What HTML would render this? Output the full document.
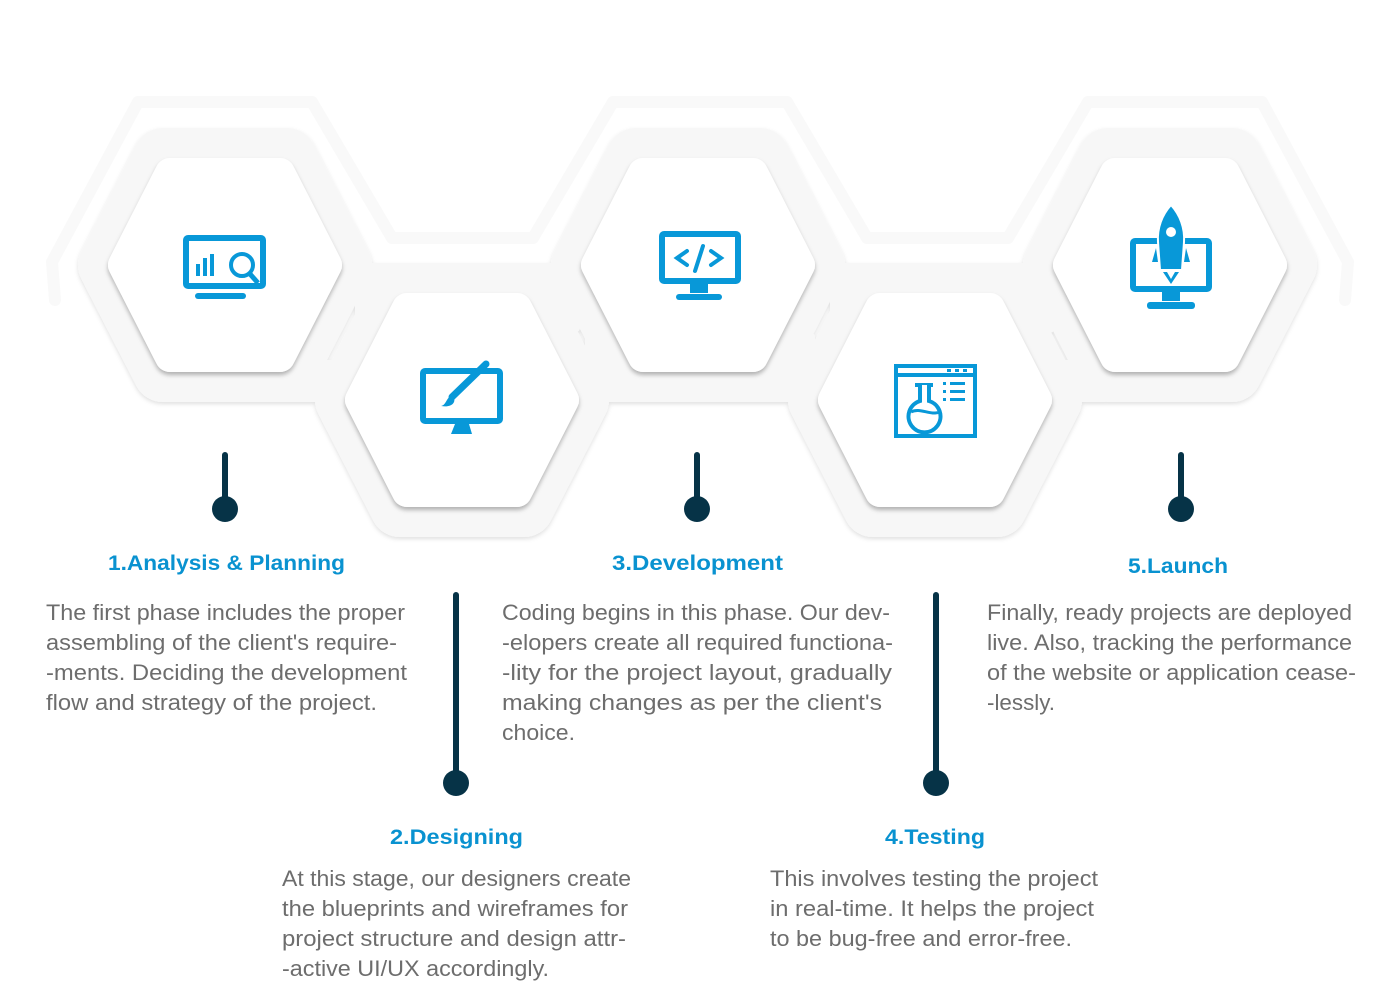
<!DOCTYPE html>
<html><head><meta charset="utf-8"><style>
html,body{margin:0;padding:0;background:#fff;width:1400px;height:1000px;overflow:hidden}
svg{display:block}
.t{font-family:"Liberation Sans",sans-serif;font-weight:bold;font-size:21px;fill:#0992d0}
.b{font-family:"Liberation Sans",sans-serif;font-size:22px;fill:#6d6d6d}
</style></head><body>
<svg width="1400" height="1000" viewBox="0 0 1400 1000" xmlns="http://www.w3.org/2000/svg">
<defs>
<filter id="sh" filterUnits="userSpaceOnUse" x="0" y="0" width="1400" height="1000">
<feDropShadow dx="0" dy="3" stdDeviation="2" flood-color="#000" flood-opacity="0.28"/>
</filter>
<filter id="sh2" filterUnits="userSpaceOnUse" x="0" y="0" width="1400" height="1000">
<feDropShadow dx="0" dy="2" stdDeviation="2" flood-color="#000" flood-opacity="0.12"/>
</filter>
<g id="band"><polygon points="-117,0 -62,-107 62,-107 117,0 62,107 -62,107" fill="#f7f7f7" stroke="#f7f7f7" stroke-width="60" stroke-linejoin="round"/></g>
<g id="hex"><polygon points="-102,0 -55,-92 55,-92 102,0 55,92 -55,92" fill="#fff" stroke="#fff" stroke-width="30" stroke-linejoin="round"/></g>
</defs>
<polyline points="55,300 52,262 138,102 312,102 392,238 533,238 613,102 787,102 867,238 1008,238 1088,102 1262,102 1348,262 1345,300" fill="none" stroke="#f9f9f9" stroke-width="12" stroke-linejoin="round" stroke-linecap="round"/>
<g filter="url(#sh2)">
<use href="#band" x="225" y="265"/>
<use href="#band" x="462" y="400"/>
<use href="#band" x="698" y="265"/>
<use href="#band" x="935" y="400"/>
<use href="#band" x="1170" y="265"/>
<g fill="#f7f7f7">
<rect x="355" y="263" width="225" height="70" rx="6"/>
<rect x="830" y="263" width="225" height="70" rx="6"/>
<rect x="585" y="332" width="230" height="70" rx="6"/>
<rect x="280" y="360" width="80" height="42" rx="6"/>
<rect x="1040" y="360" width="70" height="42" rx="6"/>
</g>
</g>
<g filter="url(#sh)">
<use href="#hex" x="225" y="265"/>
<use href="#hex" x="462" y="400"/>
<use href="#hex" x="698" y="265"/>
<use href="#hex" x="935" y="400"/>
<use href="#hex" x="1170" y="265"/>
</g>
<!-- icon 1 -->
<g fill="#0898d8" stroke="#0898d8">
<rect x="186" y="238" width="77" height="48" rx="2" fill="none" stroke-width="6"/>
<rect x="195" y="293" width="51" height="6" rx="3" stroke="none"/>
<rect x="196" y="264" width="4" height="12" stroke="none"/>
<rect x="203" y="258" width="4" height="18" stroke="none"/>
<rect x="210" y="254" width="4" height="22" stroke="none"/>
<circle cx="242" cy="265" r="11" fill="#fff" stroke-width="4"/>
<line x1="250" y1="274" x2="258" y2="283" stroke-width="5"/>
</g>
<!-- icon 2 -->
<g fill="#0898d8" stroke="#0898d8">
<rect x="423" y="371" width="77" height="50" rx="2" fill="none" stroke-width="6"/>
<polygon points="455,424 469,424 472,434 451,434" stroke="none"/>
<line x1="486" y1="364" x2="452" y2="397" stroke-width="7" stroke-linecap="round"/>
<path d="M453,396 C446,396 447,405 441,406 C452,408 457,402 453,396Z" stroke="none"/>
</g>
<!-- icon 3 -->
<g fill="#0898d8" stroke="#0898d8">
<rect x="662" y="234" width="76" height="47" rx="2" fill="none" stroke-width="6"/>
<rect x="690" y="281" width="18" height="12" stroke="none"/>
<rect x="676" y="294" width="46" height="6" rx="3" stroke="none"/>
<polyline points="687,251 677,258 687,265" fill="none" stroke-width="4" stroke-linecap="round"/>
<polyline points="711,251 721,258 711,265" fill="none" stroke-width="4" stroke-linecap="round"/>
<line x1="703" y1="246" x2="695" y2="271" stroke-width="4" stroke-linecap="round"/>
</g>
<!-- icon 4 -->
<g fill="#0898d8" stroke="#0898d8">
<rect x="896" y="366" width="79" height="70" fill="none" stroke-width="4"/>
<line x1="896" y1="375" x2="975" y2="375" stroke-width="4"/>
<rect x="947" y="369" width="4" height="3" stroke="none"/><rect x="955" y="369" width="4" height="3" stroke="none"/><rect x="963" y="369" width="4" height="3" stroke="none"/>
<line x1="915" y1="385" x2="933" y2="385" stroke-width="4"/>
<path d="M920,385 L920,401 A16,16 0 1 0 929,401 L929,385" fill="#fff" stroke-width="4"/>
<path d="M911,412 C920,407 930,416 940,412" fill="none" stroke-width="3"/>
<g stroke="none"><rect x="943" y="382" width="3" height="3"/><rect x="950" y="382" width="15" height="3"/>
<rect x="943" y="390" width="3" height="3"/><rect x="950" y="390" width="15" height="3"/>
<rect x="943" y="398" width="3" height="3"/><rect x="950" y="398" width="15" height="3"/></g>
</g>
<!-- icon 5 -->
<g fill="#0898d8" stroke="#0898d8">
<rect x="1133" y="241" width="76" height="48" rx="2" fill="none" stroke-width="6"/>
<rect x="1162" y="289" width="18" height="12" stroke="none"/>
<rect x="1147" y="302" width="48" height="7" rx="3" stroke="none"/>
<path d="M1171,205 C1162,215 1157,228 1158,242 L1160,270 L1182,270 L1184,242 C1185,228 1180,215 1171,205Z" fill="#0898d8" stroke="#fff" stroke-width="2"/>
<circle cx="1171" cy="232" r="5" fill="#fff" stroke="none"/>
<path d="M1156,248 L1152,262 L1158,262Z M1186,248 L1190,262 L1184,262Z" stroke="none"/>
<path d="M1163,272 L1171,284 L1179,272 L1175,272 L1171,279 L1167,272Z" stroke="none"/>
</g>
<!-- pins -->
<g stroke="#063347" stroke-width="6" stroke-linecap="round" fill="#063347">
<line x1="225" y1="455" x2="225" y2="505"/><circle cx="225" cy="509" r="13" stroke="none"/>
<line x1="697" y1="455" x2="697" y2="505"/><circle cx="697" cy="509" r="13" stroke="none"/>
<line x1="1181" y1="455" x2="1181" y2="505"/><circle cx="1181" cy="509" r="13" stroke="none"/>
<line x1="456" y1="595" x2="456" y2="778"/><circle cx="456" cy="783" r="13" stroke="none"/>
<line x1="936" y1="595" x2="936" y2="778"/><circle cx="936" cy="783" r="13" stroke="none"/>
</g>
<!-- titles -->
<text class="t" x="108" y="570" textLength="237" lengthAdjust="spacingAndGlyphs">1.Analysis &amp; Planning</text>
<text class="t" x="612" y="570" textLength="171" lengthAdjust="spacingAndGlyphs">3.Development</text>
<text class="t" x="1128" y="573" textLength="100" lengthAdjust="spacingAndGlyphs">5.Launch</text>
<text class="t" x="390" y="844" textLength="133" lengthAdjust="spacingAndGlyphs">2.Designing</text>
<text class="t" x="885" y="844" textLength="100" lengthAdjust="spacingAndGlyphs">4.Testing</text>
<!-- bodies -->
<g class="b">
<text x="46" y="620" textLength="359" lengthAdjust="spacingAndGlyphs">The first phase includes the proper</text>
<text x="46" y="650" textLength="351" lengthAdjust="spacingAndGlyphs">assembling of the client's require-</text>
<text x="46" y="680" textLength="361" lengthAdjust="spacingAndGlyphs">-ments. Deciding the development</text>
<text x="46" y="710" textLength="331" lengthAdjust="spacingAndGlyphs">flow and strategy of the project.</text>

<text x="502" y="620" textLength="388" lengthAdjust="spacingAndGlyphs">Coding begins in this phase. Our dev-</text>
<text x="502" y="650" textLength="391" lengthAdjust="spacingAndGlyphs">-elopers create all required functiona-</text>
<text x="502" y="680" textLength="390" lengthAdjust="spacingAndGlyphs">-lity for the project layout, gradually</text>
<text x="502" y="710" textLength="380" lengthAdjust="spacingAndGlyphs">making changes as per the client's</text>
<text x="502" y="740" textLength="73" lengthAdjust="spacingAndGlyphs">choice.</text>

<text x="987" y="620" textLength="365" lengthAdjust="spacingAndGlyphs">Finally, ready projects are deployed</text>
<text x="987" y="650" textLength="365" lengthAdjust="spacingAndGlyphs">live. Also, tracking the performance</text>
<text x="987" y="680" textLength="369" lengthAdjust="spacingAndGlyphs">of the website or application cease-</text>
<text x="987" y="710" textLength="68" lengthAdjust="spacingAndGlyphs">-lessly.</text>

<text x="282" y="886" textLength="349" lengthAdjust="spacingAndGlyphs">At this stage, our designers create</text>
<text x="282" y="916" textLength="346" lengthAdjust="spacingAndGlyphs">the blueprints and wireframes for</text>
<text x="282" y="946" textLength="344" lengthAdjust="spacingAndGlyphs">project structure and design attr-</text>
<text x="282" y="976" textLength="267" lengthAdjust="spacingAndGlyphs">-active UI/UX accordingly.</text>

<text x="770" y="886" textLength="328" lengthAdjust="spacingAndGlyphs">This involves testing the project</text>
<text x="770" y="916" textLength="324" lengthAdjust="spacingAndGlyphs">in real-time. It helps the project</text>
<text x="770" y="946" textLength="302" lengthAdjust="spacingAndGlyphs">to be bug-free and error-free.</text>
</g>
</svg>
</body></html>
